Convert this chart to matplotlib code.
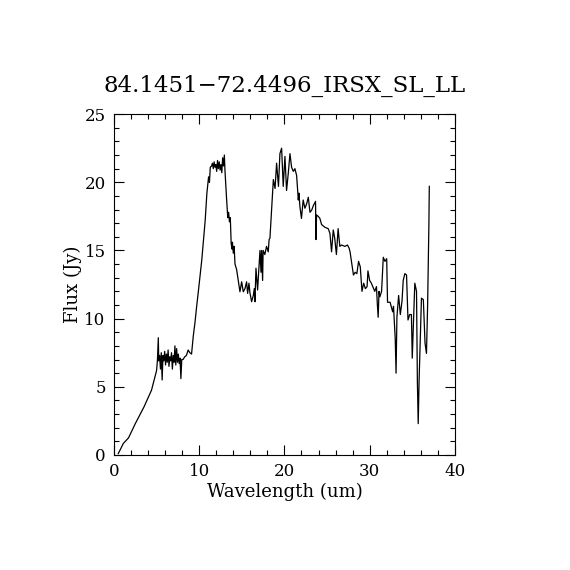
import matplotlib
matplotlib.use("Agg")
import matplotlib.pyplot as plt
from matplotlib.ticker import MultipleLocator

# spectrum
wavelength = [
    0.5, 1.1, 1.7, 2.5, 3.5, 4.4, 4.8, 5.0, 5.1, 5.2, 5.25, 5.35, 5.45, 5.55,
    5.65, 5.75, 5.85, 5.95, 6.05, 6.15, 6.25, 6.35, 6.45, 6.55, 6.65, 6.75,
    6.85, 6.95, 7.05, 7.15, 7.25, 7.35, 7.45, 7.55, 7.65, 7.75, 7.85, 7.95,
    8.1, 8.3, 8.5, 8.7, 8.9, 9.1, 9.3, 9.5, 9.7, 9.9, 10.3, 10.7, 10.9, 11.1,
    11.2, 11.3, 11.45, 11.55, 11.65, 11.75, 11.85, 11.95, 12.05, 12.15, 12.25,
    12.35, 12.45, 12.55, 12.65, 12.75, 12.85, 12.95, 13.02, 13.2, 13.35,
    13.45, 13.55, 13.65, 13.75, 13.85, 13.9, 14.0, 14.1, 14.2, 14.39, 14.6,
    14.78, 14.98, 15.17, 15.37, 15.56, 15.68, 15.84, 15.95, 16.15, 16.35,
    16.46, 16.54, 16.66, 16.85, 17.0, 17.13, 17.25, 17.32, 17.44, 17.5, 17.7,
    17.9, 18.1, 18.2, 18.3, 18.5, 18.7, 18.9, 19.08, 19.3, 19.47, 19.67,
    19.86, 20.06, 20.25, 20.45, 20.65, 20.84, 21.04, 21.23, 21.43, 21.63,
    21.7, 21.82, 22.0, 22.2, 22.4, 22.6, 22.8, 23.0, 23.2, 23.4, 23.65, 23.7,
    23.77, 23.97, 24.16, 24.36, 24.75, 25.14, 25.34, 25.53, 25.73, 25.9,
    26.1, 26.3, 26.5, 26.7, 27.1, 27.4, 27.6, 27.7, 27.9, 28.1, 28.3, 28.5,
    28.7, 28.9, 29.1, 29.3, 29.5, 29.7, 29.8, 30.0, 30.2, 30.6, 30.8, 30.9,
    31.0, 31.1, 31.2, 31.4, 31.6, 31.8, 32.0, 32.1, 32.4, 32.7, 32.8, 33.0,
    33.1, 33.2, 33.4, 33.6, 33.8, 33.94, 34.13, 34.33, 34.5, 34.7, 34.9,
    35.0, 35.3, 35.5, 35.6, 35.7, 35.8, 36.08, 36.3, 36.5, 36.67, 36.8,
    36.95, 37.0,
]
flux = [
    0.1, 0.85, 1.25, 2.3, 3.5, 4.75, 5.7, 6.2, 7.0, 8.6, 6.9, 7.3, 6.3, 7.5,
    5.5, 7.3, 6.9, 7.6, 6.6, 7.4, 6.8, 7.7, 6.5, 7.2, 6.9, 7.5,
    6.3, 7.3, 6.8, 8.0, 6.6, 7.8, 6.8, 7.4, 6.7, 7.1, 5.6, 7.0,
    7.0, 7.2, 7.3, 7.7, 7.5, 7.4, 8.7, 9.7, 10.9, 12.0, 14.3, 17.2, 19.2, 20.4,
    20.0, 21.1, 21.2, 21.4, 21.0, 21.5, 21.1, 21.3, 20.8, 21.6, 21.0,
    21.5, 20.9, 21.3, 20.7, 21.8, 21.2, 22.0, 20.9, 18.9, 17.4,
    17.8, 17.1, 17.4, 15.5, 15.1, 15.6, 14.8, 15.3, 14.0, 13.6, 12.7,
    11.97, 12.7, 11.97, 12.2, 12.7, 11.85, 12.6, 11.9, 11.24, 11.7,
    12.2, 11.24, 13.7, 12.1, 13.6, 15.0, 13.4, 15.0, 12.8, 15.0, 14.7,
    15.3, 14.9, 15.8, 15.9, 18.0, 20.2, 19.55, 21.4, 19.7, 22.1, 22.5,
    19.7, 21.9, 19.4, 20.65, 22.1, 21.1, 20.8, 21.0, 20.5, 18.7,
    19.2, 18.2, 17.35, 18.7, 18.1, 18.4, 18.9, 17.8, 17.96, 18.3, 18.6, 15.8,
    17.6, 17.5, 17.35, 16.9, 16.7, 16.6, 16.25, 14.9, 16.5, 15.9,
    14.7, 16.6, 15.3, 15.4, 15.3, 15.4, 15.15, 14.9, 14.05, 13.2, 13.4, 13.3,
    14.2, 13.8, 12.0, 12.6, 12.2, 12.35, 13.5, 12.8, 12.6, 12.0, 12.35, 11.1,
    10.1, 12.0, 11.6, 12.0, 14.5, 14.2, 14.4, 11.2, 11.2, 10.5, 10.9, 8.55,
    6.0, 10.1, 11.7, 10.3, 11.3, 12.8, 13.3, 13.2, 9.9, 10.3, 10.3,
    7.1, 12.6, 12.0, 5.4, 2.3, 5.4, 11.5, 11.4, 8.2, 7.45, 10.9,
    16.8, 19.7,
]

plt.rcParams['font.family'] = ['DejaVu Serif']

fig = plt.figure(figsize=(5.7, 5.7), dpi=100)
ax = fig.add_axes([0.2, 0.2018, 0.598, 0.598])
ax.plot(wavelength, flux, '-', color='black', linewidth=0.9)

ax.set_xlim(0, 40)
ax.set_ylim(0, 25)
ax.xaxis.set_major_locator(MultipleLocator(10))
ax.xaxis.set_minor_locator(MultipleLocator(2))
ax.yaxis.set_major_locator(MultipleLocator(5))
ax.yaxis.set_minor_locator(MultipleLocator(1))
ax.tick_params(which='both', direction='in', top=True, right=True,
               width=0.8, labelsize=12, pad=6)
ax.tick_params(which='major', length=7)
ax.tick_params(which='minor', length=3.5)
for s in ax.spines.values():
    s.set_linewidth(0.8)

ax.set_xlabel("Wavelength (um)", fontsize=13, labelpad=2)
ax.set_ylabel("Flux (Jy)", fontsize=13, labelpad=2)
ax.set_title("84.1451\u221272.4496_IRSX_SL_LL", fontsize=16.5, pad=16)

plt.savefig('out.png', dpi=100)
